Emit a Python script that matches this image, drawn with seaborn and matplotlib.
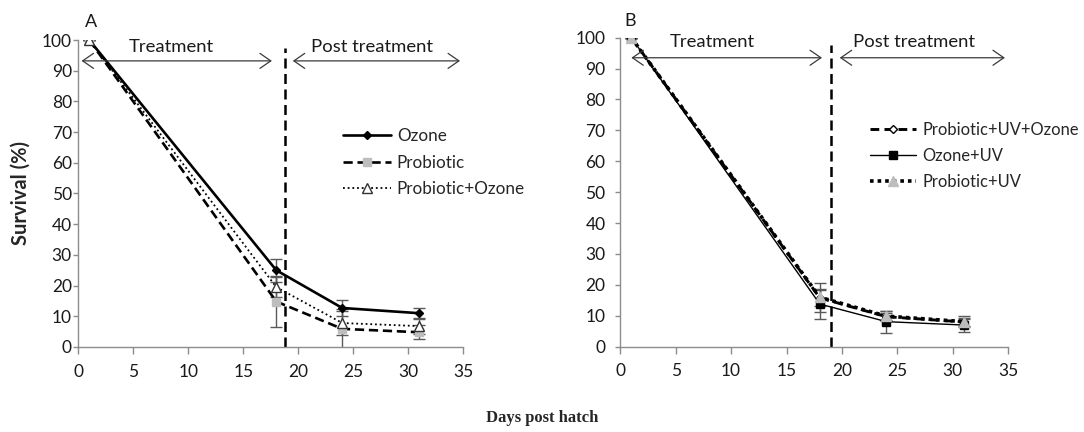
import matplotlib
matplotlib.use("Agg")
import matplotlib.pyplot as plt
import seaborn as sns
import pandas as pd

sns.set_theme(style="white")
plt.rcParams['font.family'] = ['Lato', 'DejaVu Sans']

days = [1, 18, 24, 31]

# Panel A
ozone = [100, 25, 12.7, 11]
ozone_err = [0, 3.7, 2.7, 1.8]
probiotic = [100, 14.8, 5.9, 4.8]
probiotic_err = [0, 8.2, 6.5, 2.2]
prob_ozone = [100, 19.5, 7.8, 6.8]
prob_ozone_err = [0, 3.2, 3.8, 2.6]

# Panel B
prob_uv_ozone = [100, 15.8, 9.7, 8.0]
prob_uv_ozone_err = [0, 2.5, 1.2, 1.3]
ozone_uv = [100, 13.8, 8.1, 7.0]
ozone_uv_err = [0, 4.8, 3.6, 2.1]
prob_uv = [100, 16.0, 9.9, 8.1]
prob_uv_err = [0, 4.7, 1.5, 1.8]

xticks = [0, 5, 10, 15, 20, 25, 30, 35]
yticks = [0, 10, 20, 30, 40, 50, 60, 70, 80, 90, 100]

GRAY = "#bdbdbd"
AXCOL = "#8c8c8c"

fig = plt.figure(figsize=(10.84, 4.32), dpi=100)
axA = fig.add_axes([0.0722, 0.1968, 0.3552, 0.7106])
axB = fig.add_axes([0.5722, 0.1975, 0.3579, 0.7153])


def draw_series(ax, vals, errs, label, ls, lw, marker, ms, mfc, mec):
    ax.errorbar(days, vals, yerr=errs, fmt="none", ecolor="#5a5a5a",
                elinewidth=1.0, capsize=4.5, capthick=1.0, zorder=2)
    df = pd.DataFrame({"day": days, "val": vals})
    sns.lineplot(data=df, x="day", y="val", ax=ax, color="black",
                 linestyle=ls, linewidth=lw, marker=marker, markersize=ms,
                 markerfacecolor=mfc, markeredgecolor=mec, markeredgewidth=1.0,
                 label=label, zorder=3)


draw_series(axA, ozone, ozone_err, "Ozone", "-", 1.9, "D", 4.5,
            "black", "black")
draw_series(axA, probiotic, probiotic_err, "Probiotic", (0, (3.5, 1.8)), 1.9,
            "s", 6, GRAY, GRAY)
draw_series(axA, prob_ozone, prob_ozone_err, "Probiotic+Ozone",
            (0, (1, 1.6)), 1.3, "^", 7, "white", "#333333")

draw_series(axB, prob_uv_ozone, prob_uv_ozone_err, "Probiotic+UV+Ozone",
            (0, (3, 1.8)), 2.1, "D", 4.5, "white", "black")
draw_series(axB, ozone_uv, ozone_uv_err, "Ozone+UV", "-", 1.0, "s", 6,
            "black", "black")
draw_series(axB, prob_uv, prob_uv_err, "Probiotic+UV", (0, (1, 1.1)), 2.6,
            "^", 7.5, GRAY, GRAY)


def style_axes(ax, vline_x, text_y, arrow_y, treat, post, treat_x, post_x,
               letter_xy, letter, ypad, leg_anchor, leg_size):
    ax.set_xlim(0, 35)
    ax.set_ylim(0, 100)
    ax.set_xticks(xticks)
    ax.set_yticks(yticks)
    ax.tick_params(axis="x", direction="out", length=5, width=1, color=AXCOL,
                   labelsize=12.5, labelcolor="#1a1a1a", bottom=True, pad=7)
    ax.tick_params(axis="y", direction="out", length=3.6, width=1, color=AXCOL,
                   labelsize=12.5, labelcolor="#1a1a1a", left=True, pad=ypad)
    for side in ("top", "right"):
        ax.spines[side].set_visible(False)
    for side in ("left", "bottom"):
        ax.spines[side].set_color(AXCOL)
        ax.spines[side].set_linewidth(1.0)
    ax.set_xlabel("")
    ax.set_ylabel("")
    ax.axvline(vline_x, color="black", linestyle=(0, (4, 2.2)), linewidth=1.8,
               ymin=0, ymax=0.975, zorder=1)
    arrow = dict(arrowstyle="<->,head_length=0.65,head_width=0.45",
                 color="#3a3a3a", linewidth=0.9, shrinkA=0, shrinkB=0)
    ax.annotate("", xy=treat[0:1] + [arrow_y], xytext=treat[1:2] + [arrow_y],
                arrowprops=arrow, annotation_clip=False)
    ax.annotate("", xy=post[0:1] + [arrow_y], xytext=post[1:2] + [arrow_y],
                arrowprops=arrow, annotation_clip=False)
    ax.text(treat_x, text_y, "Treatment", ha="center", va="center",
            fontsize=13.3, color="#1a1a1a")
    ax.text(post_x, text_y, "Post treatment", ha="center", va="center",
            fontsize=13.3, color="#1a1a1a")
    ax.text(letter_xy[0], letter_xy[1], letter, ha="center", va="center",
            fontsize=13, color="#1a1a1a", clip_on=False)
    ax.legend(loc="center left", bbox_to_anchor=leg_anchor, frameon=False,
              fontsize=leg_size, handlelength=2.8, handletextpad=0.35,
              labelspacing=0.62, borderaxespad=0, borderpad=0)
    ax.patch.set_alpha(0)


style_axes(axA, 18.8, 97.6, 93.2, [0.3, 17.6], [19.5, 34.7], 8.5, 26.7,
           (1.2, 106), "A", 1.0, (0.6875, 0.600), 12.3)
style_axes(axB, 19.0, 98.5, 93.5, [1.0, 18.2], [19.8, 34.7], 8.3, 26.5,
           (0.9, 105.4), "B", 7.0, (0.6436, 0.617), 11.9)

axA.set_ylabel("Survival (%)", fontsize=14.5, fontweight="bold", labelpad=8)
fig.text(0.5, 0.032, "Days post hatch", ha="center", va="center",
         fontsize=12, fontweight="bold", family=["Liberation Serif"])

fig.savefig("out.png", dpi=100, facecolor="white")
